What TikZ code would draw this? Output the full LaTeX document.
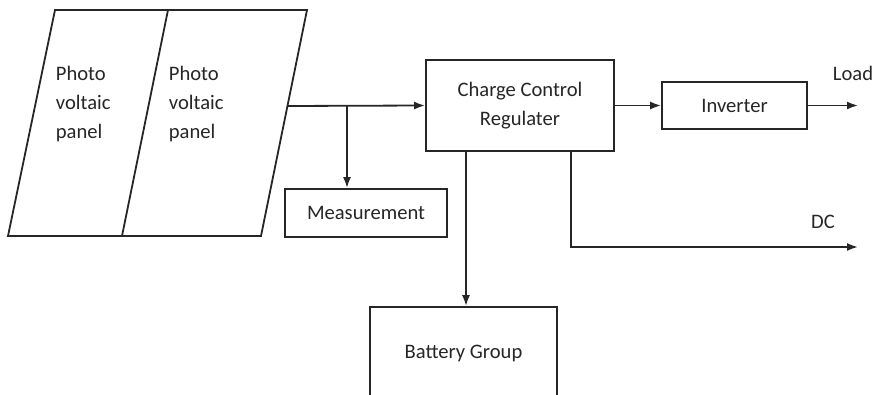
\documentclass[tikz,border=0pt]{standalone}
\usepackage{fontspec}
\setmainfont{Carlito}
\usetikzlibrary{arrows.meta,positioning}

\begin{document}
\begin{tikzpicture}[x=0.5pt,y=-0.5pt,>={Latex[length=5.5pt,width=4pt]},
line width=0.9pt,color=black!85,font=\fontsize{10.3}{14.5}\selectfont,
block/.style={draw,align=center,inner sep=0pt},
label/.style={inner sep=0pt,align=left}]
\useasboundingbox (0,0) rectangle (877,395);
\clip (0,0) rectangle (877,395);
% panels
\draw (55,10) -- (307,10) -- (261,236) -- (8,236) -- cycle;
\draw (168,10) -- (122,236);
\node[label,anchor=west] (pv1) at (55,104) {Photo\\voltaic\\panel};
\node[label,anchor=west] (pv2) at (168,104) {Photo\\voltaic\\panel};
\coordinate (pv) at (287.5,106);
\coordinate (br) at (347,106);
% blocks
\node[block,minimum width=94pt,minimum height=45.5pt] (ccr) at (520,105.5) {Charge Control\\Regulater};
\node[block,minimum width=72.5pt,minimum height=23.5pt] (inv) at (734.5,105.5) {Inverter};
\node[block,minimum width=81pt,minimum height=24pt] (meas) at (366,213) {Measurement};
\node[block,minimum width=93.5pt,minimum height=46pt] (bat) at (463.5,353) {Battery Group};
\coordinate (load) at (858,105.5);
\coordinate (batdrop) at (466,151);
\coordinate (dcdrop) at (571,151);
\coordinate (dc) at (858,247);
\node[label] (loadtxt) at (853,73) {Load};
\node[label] (dctxt) at (823,222) {DC};
% connectors
\draw[->] (pv) -- (ccr.west);
\draw[->] (br) -- (br |- meas.north);
\draw[->] (ccr) -- (inv);
\draw[->] (inv) -- (load);
\draw[->] (batdrop) -- (batdrop |- bat.north);
\draw[->] (dcdrop) |- (dc);
\end{tikzpicture}
\end{document}
